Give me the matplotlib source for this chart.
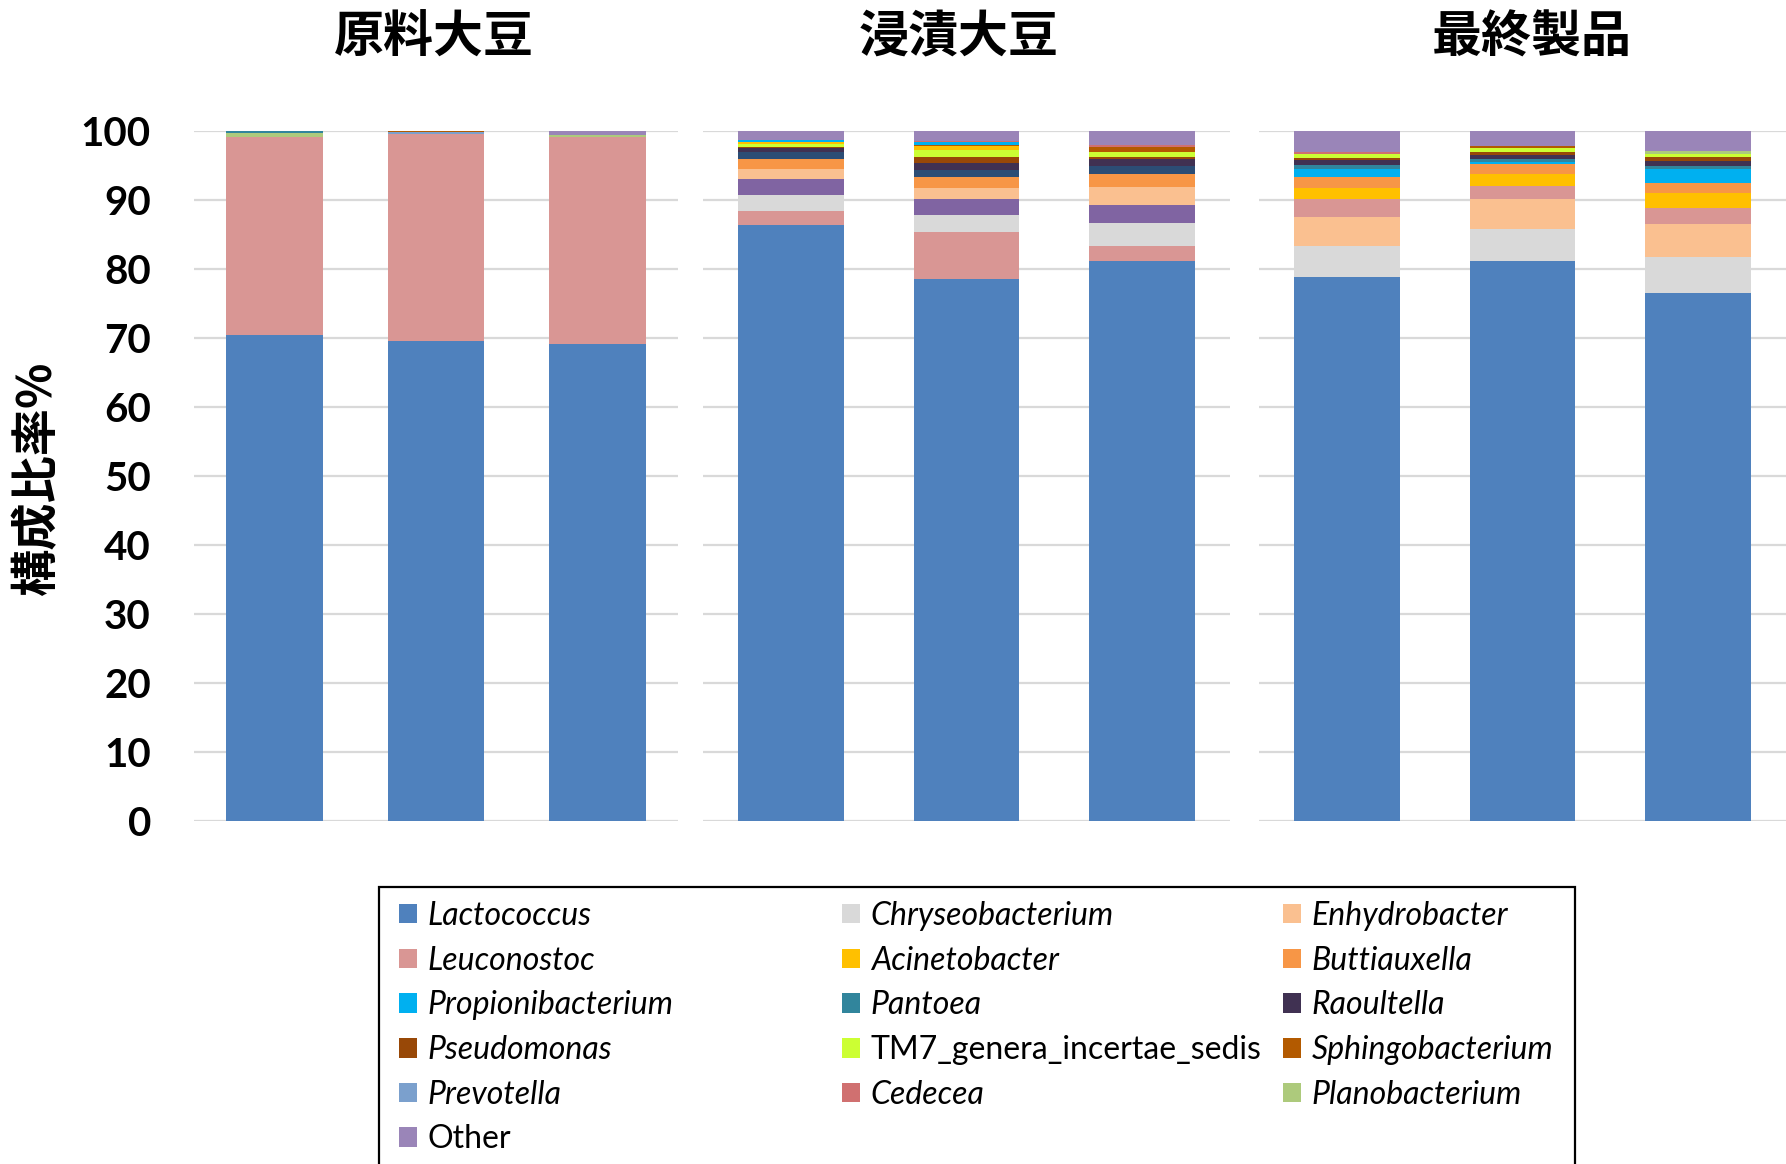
import matplotlib
matplotlib.use('Agg')
import matplotlib.pyplot as plt
from matplotlib.patches import Patch, Rectangle

# Data (composition %)
groups = ['原料大豆', '浸漬大豆', '最終製品']

colors = {
    'Lactococcus': '#4F81BD',
    'Chryseobacterium': '#D9D9D9',
    'Enhydrobacter': '#FAC090',
    'Leuconostoc': '#D99694',
    'Acinetobacter': '#FFC000',
    'Buttiauxella': '#F79646',
    'Propionibacterium': '#00B0F0',
    'Pantoea': '#31859C',
    'Raoultella': '#403152',
    'Pseudomonas': '#984807',
    'TM7_genera_incertae_sedis': '#CCFF33',
    'Sphingobacterium': '#B35A00',
    'Prevotella': '#7BA0CD',
    'Cedecea': '#D07070',
    'Planobacterium': '#ADCA7C',
    'Other': '#9A85B8',
    # series visible in the bars but not listed in the legend
    'unlisted_purple': '#8064A2',
    'unlisted_navy': '#2C4D75',
}

# values per group: 3 samples each
raw_values = {
    'Lactococcus':     [70.4, 69.5, 69.2],
    'Leuconostoc':     [28.8, 30.0, 30.0],
    'Planobacterium':  [0.5, 0.0, 0.2],
    'Prevotella':      [0.0, 0.3, 0.0],
    'Pantoea':         [0.3, 0.0, 0.0],
    'Sphingobacterium': [0.0, 0.2, 0.0],
    'Other':           [0.0, 0.0, 0.6],
}
raw_order = ['Lactococcus', 'Leuconostoc', 'Planobacterium', 'Prevotella',
             'Pantoea', 'Sphingobacterium', 'Other']

soak_values = {
    'Lactococcus':       [86.4, 78.5, 81.1],
    'Leuconostoc':       [2.0, 6.9, 2.3],
    'Chryseobacterium':  [2.3, 2.4, 3.2],
    'unlisted_purple':   [2.3, 2.3, 2.7],
    'Enhydrobacter':     [1.5, 1.7, 2.6],
    'Buttiauxella':      [1.5, 1.6, 1.8],
    'unlisted_navy':     [0.9, 0.9, 1.2],
    'Raoultella':        [0.6, 1.1, 1.0],
    'Pseudomonas':       [0.25, 0.8, 0.3],
    'TM7_genera_incertae_sedis': [0.4, 1.0, 0.7],
    'Acinetobacter':     [0.2, 0.6, 0.0],
    'Sphingobacterium':  [0.0, 0.2, 0.8],
    'Propionibacterium': [0.35, 0.4, 0.0],
    'Cedecea':           [0.0, 0.2, 0.2],
    'Other':             [1.3, 1.4, 2.1],
}
soak_order = list(soak_values.keys())

final_values = {
    'Lactococcus':       [78.8, 81.1, 76.5],
    'Chryseobacterium':  [4.6, 4.7, 5.2],
    'Enhydrobacter':     [4.1, 4.3, 4.8],
    'Leuconostoc':       [2.6, 2.0, 2.4],
    'Acinetobacter':     [1.7, 1.7, 2.1],
    'Buttiauxella':      [1.5, 1.4, 1.4],
    'Propionibacterium': [1.2, 0.3, 2.1],
    'Pantoea':           [0.6, 0.5, 0.5],
    'Raoultella':        [0.7, 0.5, 0.7],
    'Pseudomonas':       [0.3, 0.4, 0.5],
    'TM7_genera_incertae_sedis': [0.5, 0.6, 0.5],
    'Sphingobacterium':  [0.0, 0.3, 0.0],
    'Cedecea':           [0.4, 0.0, 0.0],
    'Planobacterium':    [0.0, 0.0, 0.4],
    'Other':             [3.0, 2.2, 2.9],
}
final_order = list(final_values.keys())

panels = [(raw_values, raw_order), (soak_values, soak_order), (final_values, final_order)]

legend_cols = [
    ['Lactococcus', 'Leuconostoc', 'Propionibacterium', 'Pseudomonas', 'Prevotella', 'Other'],
    ['Chryseobacterium', 'Acinetobacter', 'Pantoea', 'TM7_genera_incertae_sedis', 'Cedecea'],
    ['Enhydrobacter', 'Buttiauxella', 'Raoultella', 'Sphingobacterium', 'Planobacterium'],
]
upright = ['Other', 'TM7_genera_incertae_sedis']

W, H = 1786, 1164
fig = plt.figure(figsize=(W / 100, H / 100), dpi=100)

# axes boxes in pixels (left, right)
boxes = [(194, 678), (703, 1230), (1259, 1786)]
y0, y1 = 821, 131
title_x = [434, 959, 1532]

for i, ((vals, order), (l, r)) in enumerate(zip(panels, boxes)):
    ax = fig.add_axes([l / W, 1 - y0 / H, (r - l) / W, (y0 - y1) / H])
    x = [0, 1, 2]
    bottom = [0.0, 0.0, 0.0]
    for name in order:
        v = vals[name]
        ax.bar(x, v, width=0.6, bottom=bottom, color=colors[name], zorder=3)
        bottom = [b + vv for b, vv in zip(bottom, v)]
    ax.set_xlim(-0.5, 2.5)
    ax.set_ylim(0, 100)
    ax.set_yticks(range(0, 101, 10))
    ax.yaxis.grid(True, color='#D9D9D9', linewidth=1.6, zorder=0)
    ax.set_axisbelow(True)
    for s in ax.spines.values():
        s.set_visible(False)
    ax.set_xticks([])
    ax.tick_params(axis='y', length=0, pad=31)
    if i == 0:
        for lab in ax.get_yticklabels():
            lab.set_fontfamily(['Lato', 'DejaVu Sans'])
            lab.set_fontweight('bold')
            lab.set_fontsize(29)
    else:
        ax.set_yticklabels([])
    fig.text(title_x[i] / W, 1 - 38 / H, groups[i], ha='center', va='center',
             fontsize=36, fontweight='bold', family=['Noto Sans CJK JP', 'DejaVu Sans'])

fig.text(37 / W, 1 - 478 / H, '構成比率%', rotation=90, ha='center', va='center',
         fontsize=34, fontweight='bold', family=['Noto Sans CJK JP', 'DejaVu Sans'])

# legend: three columns with equal widths, framed box cut by the figure bottom
col_x = [399, 842, 1283]
for cx, names in zip(col_x, legend_cols):
    handles = [Patch(facecolor=colors[n], edgecolor='none') for n in names]
    leg = fig.legend(handles, names, loc='upper left',
                     bbox_to_anchor=(cx / W, 1 - 901 / H), frameon=False,
                     borderpad=0, borderaxespad=0, handlelength=0.56,
                     handleheight=0.56, handletextpad=0.34, labelspacing=0.46,
                     prop={'family': 'Lato', 'style': 'italic', 'size': 23})
    for t in leg.get_texts():
        if t.get_text() in upright:
            t.set_fontstyle('normal')

fig.add_artist(Rectangle((379 / W, -0.05), (1575 - 379) / W, (1164 - 887) / H + 0.05,
                         transform=fig.transFigure, fill=False, edgecolor='black',
                         linewidth=1.6))

fig.savefig('out.png', dpi=100)
